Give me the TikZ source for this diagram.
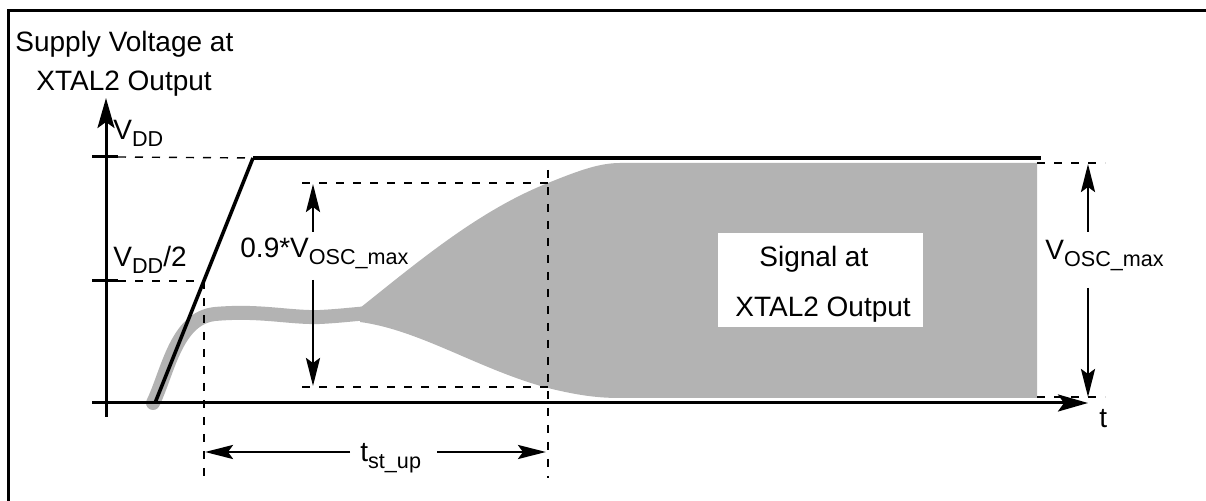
\documentclass[tikz,border=0pt]{standalone}
\usepackage{fontspec}
\setmainfont{Liberation Sans}
\usetikzlibrary{arrows.meta}
\definecolor{sig}{RGB}{179,179,179}
\newcommand\lsub[1]{\raisebox{-3.5pt}{\fontsize{10.8}{12}\selectfont #1}}
\begin{document}
\begin{tikzpicture}[x=0.5pt,y=-0.5pt,
  lbl/.style={anchor=base west,inner sep=0pt,font=\fontsize{14}{16}\selectfont},
  dsh/.style={line width=0.7pt,dash pattern=on 4pt off 4.5pt},
  axis/.style={line width=1.5pt},
  dim/.style={line width=1.4pt,-{Stealth[length=14pt,width=7pt,inset=2.5pt]}},
  axarrow/.style={-{Stealth[length=15pt,width=8.5pt,inset=3pt]}}]
\useasboundingbox (0,0) rectangle (1206,501);
% frame (only top and left visible)
\draw[line width=1.5pt] (8,520) -- (8,11) -- (1220,11);
% coordinates
\coordinate (o) at (106,403);
\coordinate (ytop) at (106,98);
\coordinate (ybot) at (106,417);
\coordinate (xl) at (92,403);
\coordinate (xr) at (1088,403);
\coordinate (rs) at (155,403);
\coordinate (re) at (253,158);
\coordinate (ve) at (1041,158);
\coordinate (half) at (204,281);
% signal envelope
\fill[sig] (360,308) .. controls (420,260) and (480,210) .. (548,183)
  .. controls (580,170) and (600,163) .. (620,163) -- (1037,163) -- (1037,398) -- (620,398)
  .. controls (600,398) and (580,396) .. (548,388)
  .. controls (480,370) and (420,330) .. (360,322) -- cycle;
\draw[sig,line width=7pt,line cap=round] (153,403) .. controls (168,372) and (176,318) .. (215,314)
  .. controls (260,310) and (290,318) .. (320,317) .. controls (340,316) and (355,314) .. (370,313);
% axes
\draw[axis,axarrow] (ybot) -- (ytop);
\draw[axis,axarrow] (xl) -- (xr);
\draw[axis] (92,157) -- (118,157);
\draw[axis] (92,281) -- (118,281);
% supply ramp
\draw[line width=1.8pt] (rs) -- (re);
\draw[line width=2.3pt] (re) -- (ve);
% dashed guides
\draw[dsh] (118,157) -- (re);
\draw[dsh] (118,281) -- (half);
\draw[dsh] (half) -- (204,478);
\draw[dsh] (548,170) -- (548,478);
\draw[dsh] (302,183) -- (548,183);
\draw[dsh] (302,387) -- (548,387);
\draw[dsh] (1037,163) -- (1105,163);
\draw[dsh] (1037,397) -- (1105,397);
% dimension arrows
\draw[dim] (313,232) -- (313,184);
\draw[dim] (313,280) -- (313,386);
\draw[dim] (1088,232) -- (1088,164);
\draw[dim] (1088,288) -- (1088,397);
\draw[dim] (350,452) -- (205,452);
\draw[dim] (437,452) -- (546,452);
% white label box
\fill[white] (718,233) rectangle (923,327);
% labels
\node[lbl] (l1) at (15,52) {Supply Voltage at};
\node[lbl] (l2) at (36,91) {XTAL2 Output};
\node[lbl] (vdd) at (113,140) {V\lsub{DD}};
\node[lbl] (vdd2) at (113,267) {V\lsub{DD}/2};
\node[lbl] (v09) at (240,258) {0.9*V\lsub{OSC\_max}};
\node[lbl] (vosc) at (1045,260) {V\lsub{OSC\_max}};
\node[lbl] (tst) at (360,462) {t\lsub{st\_up}};
\node[lbl] (t) at (1099,428) {t};
\node[lbl] (s1) at (759,267) {Signal at};
\node[lbl] (s2) at (735,317) {XTAL2 Output};
\end{tikzpicture}
\end{document}
